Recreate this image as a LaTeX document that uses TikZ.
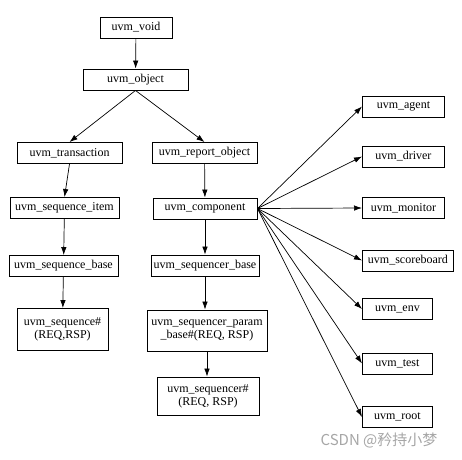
\documentclass[tikz,border=0pt]{standalone}
\usepackage{fontspec}
\setmainfont{Liberation Serif}
\newfontfamily\cjkfont{Noto Sans CJK SC}
\usetikzlibrary{arrows.meta}
\begin{document}
\begin{tikzpicture}[x=1pt, y=-1pt, line width=0.7pt,
  cls/.style={draw, line width=0.9pt, inner sep=1pt, minimum height=21pt, align=center, font=\fontsize{12}{13}\selectfont},
  arr/.style={-{Latex[length=8pt, width=5.5pt]}}]
  \useasboundingbox (0,0) rectangle (462,459);
  \node[cls, minimum width=72pt] (void) at (136.0,27.5) {uvm\_void};
  \node[cls, minimum width=105pt] (object) at (135.5,79.5) {uvm\_object};
  \node[cls, minimum width=105pt] (transaction) at (69.5,153.0) {uvm\_transaction};
  \node[cls, minimum width=105pt] (reportobj) at (204.5,153.0) {uvm\_report\_object};
  \node[cls, minimum width=109pt] (seqitem) at (64.5,208.0) {uvm\_sequence\_item};
  \node[cls, minimum width=104pt] (component) at (205.0,208.5) {uvm\_component};
  \node[cls, minimum width=109pt] (seqbase) at (63.5,266.0) {uvm\_sequence\_base};
  \node[cls, minimum width=108pt] (sqrbase) at (205.0,265.5) {uvm\_sequencer\_base};
  \node[cls, minimum width=91pt, minimum height=42pt] (sequence) at (62.5,329.5) {uvm\_sequence\#\\(REQ,RSP)};
  \node[cls, minimum width=120pt, minimum height=41pt] (parambase) at (207.0,330.5) {uvm\_sequencer\_param\\\_base\#(REQ, RSP)};
  \node[cls, minimum width=102pt, minimum height=38pt] (sequencer) at (208.0,396.0) {uvm\_sequencer\#\\(REQ, RSP)};
  \node[cls, anchor=west, minimum width=82pt] (agent) at (362,106.5) {uvm\_agent};
  \node[cls, anchor=west, minimum width=82pt] (driver) at (362,156.5) {uvm\_driver};
  \node[cls, anchor=west, minimum width=82pt] (monitor) at (362,208.0) {uvm\_monitor};
  \node[cls, anchor=west, minimum width=91pt] (scoreboard) at (362,260.5) {uvm\_scoreboard};
  \node[cls, anchor=west, minimum width=70pt] (env) at (362,309.0) {uvm\_env};
  \node[cls, anchor=west, minimum width=70pt] (test) at (362,363.5) {uvm\_test};
  \node[cls, anchor=west, minimum width=70pt] (root) at (362,417.0) {uvm\_root};
  \draw[arr] (void) -- (object);
  \draw[arr] (object.south) -- (transaction.north);
  \draw[arr] (object.south) -- (reportobj.north);
  \draw[arr] (transaction.south) -- (seqitem.north);
  \draw[arr] (seqitem) -- (seqbase);
  \draw[arr] (seqbase) -- (sequence);
  \draw[arr] (reportobj) -- (component);
  \draw[arr] (component) -- (sqrbase);
  \draw[arr] (sqrbase.south) -- (sqrbase.south |- parambase.north);
  \draw[arr] (parambase.south) -- (parambase.south |- sequencer.north);
  \foreach \n in {agent,driver,monitor,scoreboard,env,test,root}
    \draw[arr] (component.east) -- (\n.west);
  \node[font=\cjkfont\fontsize{15}{15}\selectfont, text=gray!70] (mark) at (379,440) {CSDN @矜持小梦};
\end{tikzpicture}
\end{document}
